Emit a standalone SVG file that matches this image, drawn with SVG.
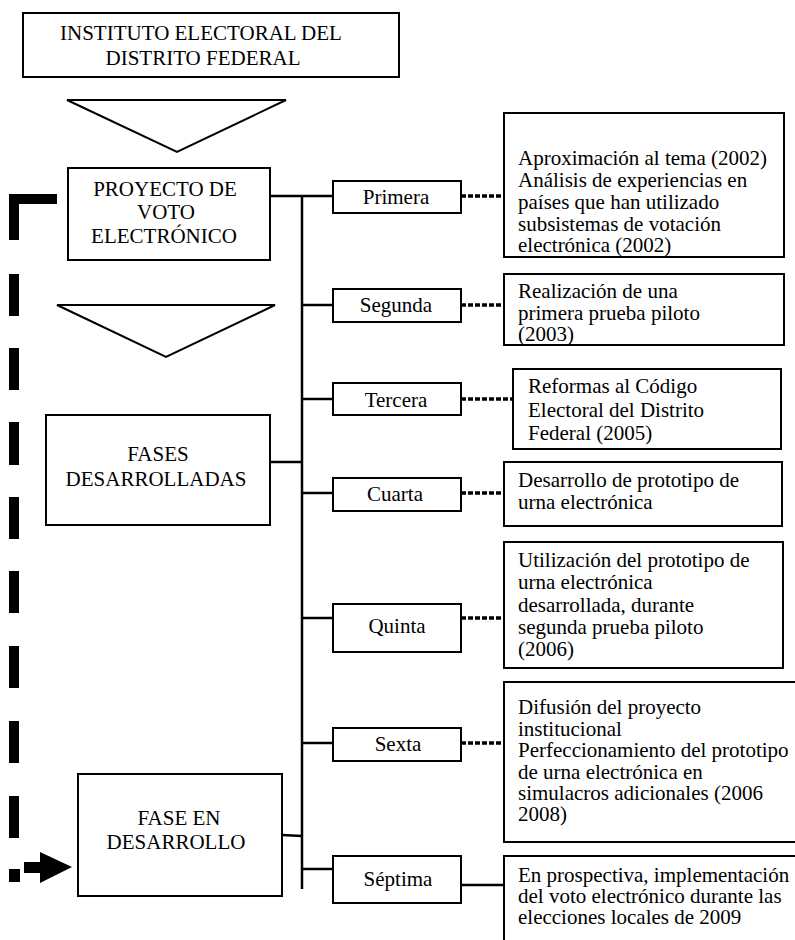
<svg xmlns="http://www.w3.org/2000/svg" width="795" height="940" viewBox="0 0 795 940">
<style>
.box{fill:#fff;stroke:#000;stroke-width:2}
.t{font-family:"Liberation Serif","Times New Roman",serif;font-size:21px;fill:#000}
.c{text-anchor:middle}
.ln{stroke:#000;stroke-width:2.5;fill:none}
.dot{stroke:#000;stroke-width:3.5;stroke-dasharray:5 2;fill:none}
.tri{fill:#fff;stroke:#000;stroke-width:2}
</style>
<rect width="795" height="940" fill="#fff"/>

<g id="connectors">
  <line class="ln" x1="302" y1="195" x2="302" y2="889"/>
  <line class="ln" x1="270" y1="196" x2="333" y2="196"/>
  <line class="ln" x1="302" y1="305" x2="333" y2="305"/>
  <line class="ln" x1="302" y1="399" x2="333" y2="399"/>
  <line class="ln" x1="270" y1="462" x2="302" y2="462"/>
  <line class="ln" x1="302" y1="493" x2="333" y2="493"/>
  <line class="ln" x1="302" y1="618" x2="333" y2="618"/>
  <line class="ln" x1="302" y1="743" x2="333" y2="743"/>
  <line class="ln" x1="282" y1="835" x2="302" y2="836"/>
  <line class="ln" x1="302" y1="869" x2="333" y2="869"/>
  <line class="dot" x1="461" y1="196" x2="505" y2="196"/>
  <line class="dot" x1="461" y1="305" x2="505" y2="305"/>
  <line class="dot" x1="461" y1="399" x2="513" y2="399"/>
  <line class="dot" x1="461" y1="493" x2="505" y2="493"/>
  <line class="dot" x1="461" y1="618" x2="505" y2="618"/>
  <line class="dot" x1="461" y1="743" x2="505" y2="743"/>
  <line class="ln" x1="461" y1="885" x2="505" y2="885"/>
  <!-- thick dashed feedback line -->
  <g fill="#000">
    <rect x="9" y="194" width="48" height="10"/>
    <rect x="9" y="194" width="10" height="46"/>
    <rect x="9" y="274" width="10" height="42"/>
    <rect x="9" y="348" width="10" height="42"/>
    <rect x="9" y="422" width="10" height="43"/>
    <rect x="9" y="497" width="10" height="42"/>
    <rect x="9" y="571" width="10" height="42"/>
    <rect x="9" y="646" width="10" height="42"/>
    <rect x="9" y="721" width="10" height="42"/>
    <rect x="9" y="796" width="10" height="42"/>
    <rect x="9" y="869" width="11" height="13"/>
    <rect x="24" y="862" width="18" height="11"/>
    <polygon points="40,852 72,867 40,883"/>
  </g>
</g>

<g id="instituto">
  <rect class="box" x="23" y="13" width="376" height="64"/>
  <text class="t c" x="201" y="40">INSTITUTO ELECTORAL DEL</text>
  <text class="t c" x="203" y="65">DISTRITO FEDERAL</text>
</g>
<g id="tri1"><polygon class="tri" points="67,100 286,100 177,152"/></g>
<g id="proyecto">
  <rect class="box" x="68" y="168" width="202" height="92"/>
  <text class="t c" x="165" y="196">PROYECTO DE</text>
  <text class="t c" x="166" y="219">VOTO</text>
  <text class="t c" x="164" y="243">ELECTRÓNICO</text>
</g>
<g id="tri2"><polygon class="tri" points="57,305 275,305 166,357"/></g>
<g id="fases">
  <rect class="box" x="46" y="415" width="224" height="110"/>
  <text class="t c" x="158" y="461">FASES</text>
  <text class="t c" x="156" y="486">DESARROLLADAS</text>
</g>
<g id="fase-desarrollo">
  <rect class="box" x="78" y="774" width="204" height="122"/>
  <text class="t c" x="179" y="825">FASE EN</text>
  <text class="t c" x="176" y="849">DESARROLLO</text>
</g>

<g id="primera">
  <rect class="box" x="333" y="181" width="128" height="32"/>
  <text class="t c" x="396" y="204">Primera</text>
</g>
<g id="segunda">
  <rect class="box" x="333" y="289" width="128" height="33"/>
  <text class="t c" x="396" y="312">Segunda</text>
</g>
<g id="tercera">
  <rect class="box" x="333" y="383" width="128" height="32"/>
  <text class="t c" x="396" y="407">Tercera</text>
</g>
<g id="cuarta">
  <rect class="box" x="333" y="478" width="128" height="33"/>
  <text class="t c" x="395" y="501">Cuarta</text>
</g>
<g id="quinta">
  <rect class="box" x="333" y="604" width="128" height="48"/>
  <text class="t c" x="397" y="633">Quinta</text>
</g>
<g id="sexta">
  <rect class="box" x="333" y="728" width="128" height="33"/>
  <text class="t c" x="398" y="751">Sexta</text>
</g>
<g id="septima">
  <rect class="box" x="333" y="856" width="128" height="47"/>
  <text class="t c" x="398" y="886">Séptima</text>
</g>

<g id="desc-primera">
  <rect class="box" x="504" y="113" width="280" height="144"/>
  <text class="t" x="518" y="165">Aproximación al tema (2002)</text>
  <text class="t" x="518" y="187">Análisis de experiencias en</text>
  <text class="t" x="518" y="209">países que han utilizado</text>
  <text class="t" x="518" y="231">subsistemas de votación</text>
  <text class="t" x="518" y="252">electrónica (2002)</text>
</g>
<g id="desc-segunda">
  <rect class="box" x="504" y="274" width="280" height="71"/>
  <text class="t" x="518" y="298">Realización de una</text>
  <text class="t" x="518" y="320">primera prueba piloto</text>
  <text class="t" x="518" y="341">(2003)</text>
</g>
<g id="desc-tercera">
  <rect class="box" x="513" y="369" width="268" height="80"/>
  <text class="t" x="528" y="393">Reformas al Código</text>
  <text class="t" x="528" y="417">Electoral del Distrito</text>
  <text class="t" x="528" y="440">Federal (2005)</text>
</g>
<g id="desc-cuarta">
  <rect class="box" x="504" y="462" width="278" height="64"/>
  <text class="t" x="518" y="487">Desarrollo de prototipo de</text>
  <text class="t" x="518" y="509">urna electrónica</text>
</g>
<g id="desc-quinta">
  <rect class="box" x="504" y="542" width="279" height="126"/>
  <text class="t" x="518" y="567">Utilización del prototipo de</text>
  <text class="t" x="518" y="589">urna electrónica</text>
  <text class="t" x="518" y="612">desarrollada, durante</text>
  <text class="t" x="518" y="634">segunda prueba piloto</text>
  <text class="t" x="518" y="656">(2006)</text>
</g>
<g id="desc-sexta">
  <rect class="box" x="504" y="682" width="300" height="160"/>
  <text class="t" x="518" y="714">Difusión del proyecto</text>
  <text class="t" x="518" y="736">institucional</text>
  <text class="t" x="518" y="757">Perfeccionamiento del prototipo</text>
  <text class="t" x="518" y="779">de urna electrónica en</text>
  <text class="t" x="518" y="800">simulacros adicionales (2006</text>
  <text class="t" x="518" y="821">2008)</text>
</g>
<g id="desc-septima">
  <rect class="box" x="504" y="856" width="300" height="100"/>
  <text class="t" x="518" y="882">En prospectiva, implementación</text>
  <text class="t" x="518" y="903">del voto electrónico durante las</text>
  <text class="t" x="518" y="924">elecciones locales de 2009</text>
</g>
</svg>
